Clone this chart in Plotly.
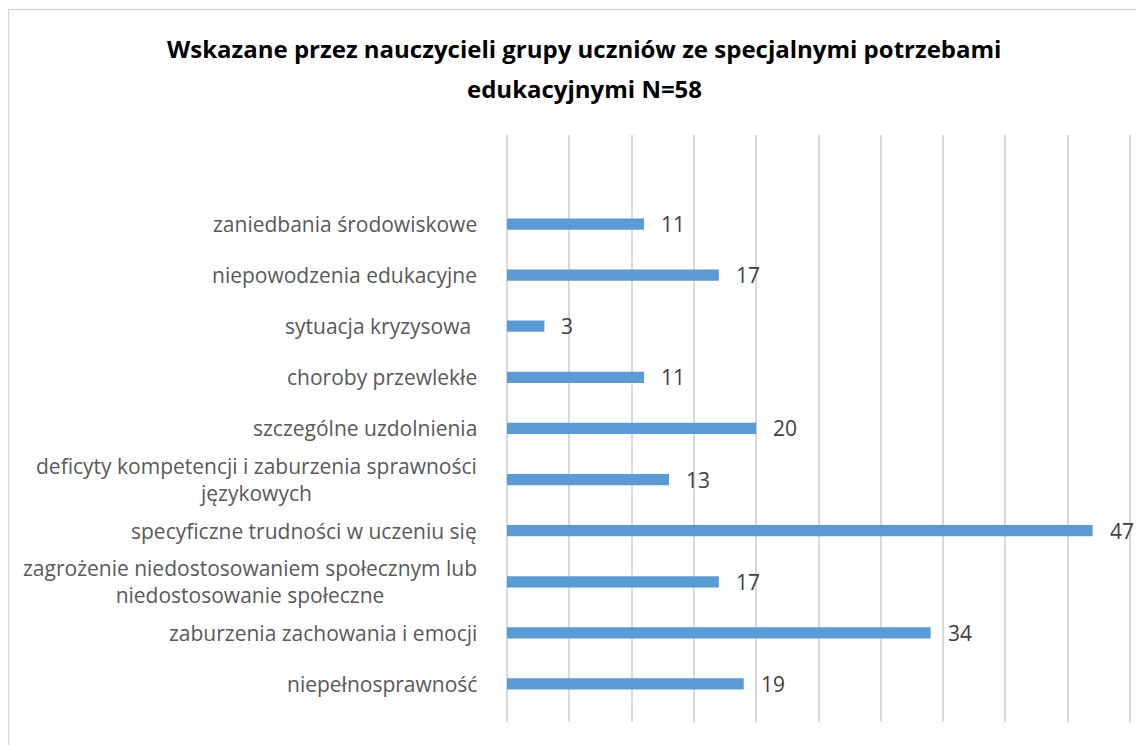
import plotly.graph_objects as go

categories = [
    "niepełnosprawność",
    "zaburzenia zachowania i emocji",
    "zagrożenie niedostosowaniem społecznym lub<br>niedostosowanie społeczne",
    "specyficzne trudności w uczeniu się",
    "deficyty kompetencji i zaburzenia sprawności<br>językowych",
    "szczególne uzdolnienia",
    "choroby przewlekłe",
    "sytuacja kryzysowa ",
    "niepowodzenia edukacyjne",
    "zaniedbania środowiskowe",
]
values = [19, 34, 17, 47, 13, 20, 11, 3, 17, 11]
x_ticks = list(range(0, 51, 5))
title_lines = [
    "Wskazane przez nauczycieli grupy uczniów ze specjalnymi potrzebami",
    "edukacyjnymi N=58",
]

# the page body has an 8px margin: work in page coordinates, shift by OFF
OFF = 8
W, H = 1144 - OFF, 745 - OFF
X_MAX = 50.4
plot_l, plot_t, plot_b = 507 - OFF, 135 - OFF, 722 - OFF
plot_r = plot_l + round(12.46 * X_MAX)
pw, ph = plot_r - plot_l, plot_b - plot_t

FONT = "Open Sans, Segoe UI, sans-serif"
idx = list(range(len(categories)))

fig = go.Figure()
fig.add_trace(go.Bar(
    x=values, y=idx, orientation="h",
    width=0.22,
    marker=dict(color="#5b9bd5", line=dict(width=0)),
    hoverinfo="x+y",
))

annotations = []
for i, (c, v) in enumerate(zip(categories, values)):
    annotations.append(dict(
        x=0, y=i, xref="x", yref="y", text=c, showarrow=False,
        xanchor="right", yanchor="middle", align="center", xshift=-28,
        font=dict(family=FONT, size=21, color="#595959"),
    ))
    annotations.append(dict(
        x=v, y=i, xref="x", yref="y", text=str(v), showarrow=False,
        xanchor="left", yanchor="middle", xshift=15,
        font=dict(family=FONT, size=21, color="#404040"),
    ))

title_y_page = [48, 88]
for t, yp in zip(title_lines, title_y_page):
    annotations.append(dict(
        x=(584 - OFF - plot_l) / pw, y=(plot_b - (yp - OFF)) / ph,
        xref="paper", yref="paper", text=t, showarrow=False,
        xanchor="center", yanchor="middle",
        font=dict(family=FONT, size=24, color="#000000", weight="bold"),
    ))

fig.update_layout(
    width=W, height=H,
    margin=dict(l=plot_l, r=W - plot_r, t=plot_t, b=H - plot_b, pad=0),
    paper_bgcolor="white", plot_bgcolor="white",
    showlegend=False,
    xaxis=dict(
        range=[0, X_MAX], tickvals=x_ticks, showticklabels=False,
        showgrid=True, gridcolor="#d9d9d9", gridwidth=1.5,
        zeroline=True, zerolinecolor="#d9d9d9", zerolinewidth=1.5,
        showline=False, ticks="", fixedrange=True,
    ),
    yaxis=dict(
        range=[-0.744, 10.742], showticklabels=False, showgrid=False,
        zeroline=False, showline=False, ticks="", fixedrange=True,
    ),
    annotations=annotations,
    shapes=[dict(
        type="rect", xref="paper", yref="paper",
        x0=(0.5 - plot_l) / pw, x1=(1170 - plot_l) / pw,
        y0=(plot_b - 770) / ph, y1=(plot_b - 1.5) / ph,
        line=dict(color="#d9d9d9", width=1.5), fillcolor="rgba(0,0,0,0)",
        layer="below",
    )],
)

fig.write_html("out.html")
